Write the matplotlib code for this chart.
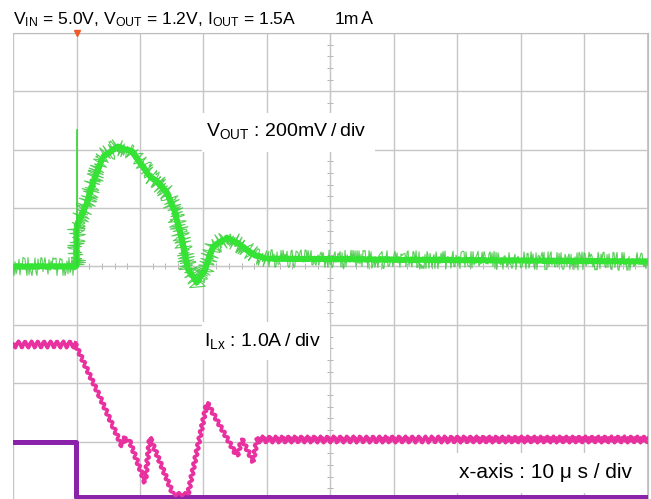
import numpy as np
import matplotlib
matplotlib.use("Agg")
import matplotlib.pyplot as plt
from matplotlib.patches import Rectangle
from matplotlib.ticker import MultipleLocator

plt.rcParams["font.family"] = ["Liberation Sans", "Noto Sans CJK JP", "DejaVu Sans"]
plt.rcParams["mathtext.fontset"] = "custom"
plt.rcParams["mathtext.rm"] = "Liberation Sans"
plt.rcParams["mathtext.default"] = "rm"

W, H = 651, 499

# ── scope settings ────────────────────────────────────────
T_DIV = 10          # us / div
VOUT_DIV = 200      # mV / div
ILX_DIV = 1.0       # A / div
ILX_ZERO = -2.9     # screen position (div) of 0 A
TRIG_T = 0.0

# ── VOUT (AC coupled, mV) ─────────────────────────────────
vout_t  = [-10, 0, 0, 1.65, 2.6, 4.17, 6.54, 8.74, 10.47, 11.57, 12.68, 14.25,
           15.51, 16.61, 17.56, 18.98, 20.24, 21.5, 23.7, 25.75, 27.8, 30.0, 90]
vout_mv = [0, 0, 137, 219, 288, 377, 411, 394, 342, 308, 291, 253,
           185, 92, -10, -55, -10, 68, 99, 75, 41, 27, 17]
spike_t  = [0, 0]
spike_mv = [0, 469]

# ── inductor current (A) ──────────────────────────────────
ilx_t = [-10, -0.2, 3.7, 5.75, 7.17, 7.64, 8.43, 10.79, 11.57, 15.2, 17.56,
         20.55, 25.28, 26.06, 27.8, 28.43, 90]
ilx_a = [1.57, 1.57, 0.66, 0.16, -0.18, -0.03, -0.11, -0.80, -0.03, -1.0, -1.0,
         0.57, -0.35, -0.06, -0.44, -0.06, -0.06]

# ── load step channel (div) ───────────────────────────────
ch3_t   = [-10, -0.1, -0.1, 90]
ch3_div = [-3.0, -3.0, -3.95, -3.95]


def fx(x):
    return x / W


def fy(y):
    return 1 - y / H


fig = plt.figure(figsize=(W / 100, H / 100), dpi=100, facecolor="white")
ax = fig.add_axes([fx(13), fy(500), (648 - 13) / W, (500 - 33) / H])
ax.set_xlim(-10, 90)
ax.set_ylim(-4, 4)

# graticule
ax.xaxis.set_major_locator(MultipleLocator(T_DIV))
ax.yaxis.set_major_locator(MultipleLocator(1))
ax.xaxis.set_minor_locator(MultipleLocator(T_DIV / 5))
ax.yaxis.set_minor_locator(MultipleLocator(0.2))
ax.grid(True, which="major", color="#c6c6c6", lw=1)
for s in ["top", "right"]:
    ax.spines[s].set_color("#bdbdbd")
ax.spines["left"].set_position(("data", 40))
ax.spines["bottom"].set_position(("data", 0))
ax.spines["left"].set_color("#c6c6c6")
ax.spines["bottom"].set_color("#c6c6c6")
ax.tick_params(which="both", direction="inout", color="#a8a8a8",
               labelleft=False, labelbottom=False)
ax.tick_params(which="minor", length=5)
ax.tick_params(which="major", length=0)
ax.add_patch(Rectangle((0, 0), 1, 1, transform=ax.transAxes, fill=False,
                       edgecolor="#bdbdbd", lw=1.2, zorder=1))

# traces
ax.plot(ch3_t, ch3_div, color="#8a22aa", lw=3.6, zorder=3)

iy = ILX_ZERO + np.array(ilx_a) / ILX_DIV
mag, = ax.plot(ilx_t, iy, color="#e8309e", lw=2.4, zorder=4)
mag.set_sketch_params(1.6, 6.5, 1.1)
# flat (steady-state) parts carry the larger switching ripple
for sl in (slice(0, 2), slice(-2, None)):
    rip, = ax.plot(ilx_t[sl], iy[sl], color="#e8309e", lw=2.4, zorder=4)
    rip.set_sketch_params(3.4, 6.5, 1.1)

vy = np.array(vout_mv) / VOUT_DIV
fuzz, = ax.plot(vout_t, vy, color="#45c845", lw=0.8, alpha=0.9, zorder=5)
fuzz.set_sketch_params(9, 1.3, 3)
core, = ax.plot(vout_t, vy, color="#35e335", lw=4, zorder=6)
core.set_sketch_params(0.6, 4, 2)
ax.plot(spike_t, np.array(spike_mv) / VOUT_DIV, color="#35d535", lw=1.2, zorder=6)

ax.plot([TRIG_T], [4], marker="v", color="#f05a28", ms=5, clip_on=False, zorder=7)

# texts
fig.text(fx(13), fy(24), r"V$_{\rm IN}$ = 5.0V, V$_{\rm OUT}$ = 1.2V, I$_{\rm OUT}$ = 1.5A",
         fontsize=12.6, va="baseline")
fig.text(fx(335), fy(24), "1mＡ", fontsize=12.6, va="baseline")

boxes = [
    (202, 113, 375, 152, 206, 136, "V$_{\\rm OUT}$ : 200mV\u2009/\u2009div", 14),
    (202, 322, 330, 360, 204, 346, "I$_{\\rm Lx}$ : 1.0A\u2009/\u2009div", 14),
    (455, 453, 636, 493, 459, 478, "x-axis : 10 μ s / div", 15),
]
for x0, y0, x1, y1, tx, ty, label, size in boxes:
    fig.add_artist(Rectangle((fx(x0), fy(y1)), (x1 - x0) / W, (y1 - y0) / H,
                             transform=fig.transFigure, facecolor="white",
                             edgecolor="none", zorder=5))
    fig.text(fx(tx), fy(ty), label, fontsize=size, va="baseline", zorder=6)

fig.savefig("out.png", dpi=100)
